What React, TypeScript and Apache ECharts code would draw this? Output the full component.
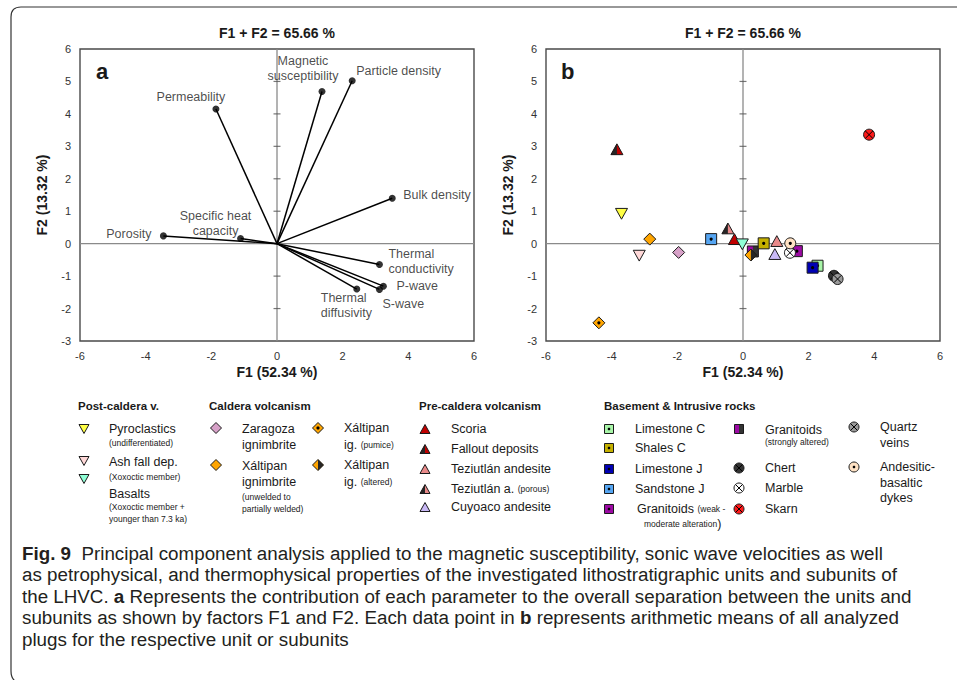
import React, { useEffect, useRef } from 'react';
import * as echarts from 'echarts';

// ---------------- DATA ----------------
const plotTitle = 'F1 + F2 = 65.66 %';
const xName = 'F1 (52.34 %)';
const yName = 'F2 (13.32 %)';
const zeroTicks = [-2, -1, 1, 2, 3, 4, 5];

// panel a : loadings
const loadingNames = [
  'Permeability',
  'Magnetic\nsusceptibility',
  'Particle density',
  'Bulk density',
  'Porosity',
  'Specific heat\ncapacity',
  'Thermal\nconductivity',
  'P-wave',
  'S-wave',
  'Thermal\ndiffusivity',
];
const loadingF1 = [-1.86, 1.37, 2.29, 3.51, -3.46, -1.11, 3.12, 3.24, 3.12, 2.43];
const loadingF2 = [4.15, 4.69, 5.02, 1.4, 0.24, 0.16, -0.64, -1.31, -1.41, -1.4];

// panel b : unit means (drawing order)
const unitNames = [
  'Fallout deposits', 'Skarn', 'Pyroclastics', 'Xáltipan ignimbrite', 'Ash fall dep.',
  'Zaragoza ignimbrite', 'Xáltipan ig. (pumice)', 'Sandstone J', 'Teziutlán a. (porous)', 'Scoria',
  'Basalts', 'Granitoids (strongly altered)', 'Xáltipan ig. (altered)', 'Shales C', 'Teziutlán andesite',
  'Cuyoaco andesite', 'Granitoids (weak - moderate alteration)', 'Marble', 'Andesitic-basaltic dykes',
  'Limestone C', 'Limestone J', 'Chert', 'Quartz veins',
];
const unitF1 = [-3.84, 3.84, -3.7, -2.84, -3.16, -1.96, -4.39, -0.97, -0.46, -0.26, -0.02, 0.3, 0.24, 0.63, 1.03, 0.97, 1.64, 1.43, 1.44, 2.27, 2.12, 2.77, 2.88];
const unitF2 = [2.91, 3.36, 0.92, 0.14, -0.37, -0.27, -2.44, 0.14, 0.47, 0.14, -0.02, -0.24, -0.35, 0.01, 0.08, -0.32, -0.23, -0.28, 0.01, -0.68, -0.74, -0.99, -1.09];
const unitMarker = [
  'fallout', 'skarn', 'pyro', 'xig', 'ash', 'zara', 'xpum', 'sandJ', 'tezip', 'scoria',
  'basalt', 'granS', 'xalt', 'shalesC', 'tezi', 'cuyo', 'granW', 'marble', 'dykes',
  'limeC', 'limeJ', 'chert', 'quartz',
];

// ---------------- STYLES / LAYOUT ----------------
const FONT = 'Arial, Liberation Sans, Helvetica, sans-serif';
const CAP_FONT = 'Arial, Liberation Sans, sans-serif';
const INK = '#1a1a1a';
const LBL = 12.5;

type Mk = { shape: string; fill: string; half?: [string, string]; dot?: boolean; cross?: boolean };
const MK: Record<string, Mk> = {
  pyro: { shape: 'itri', fill: '#ffff44' },
  ash: { shape: 'itri', fill: '#ffd8d8' },
  basalt: { shape: 'itri', fill: '#8fffd6' },
  zara: { shape: 'dia', fill: '#d7a1c8' },
  xig: { shape: 'dia', fill: '#ffa500' },
  xpum: { shape: 'dia', fill: '#ffa500', dot: true },
  xalt: { shape: 'dia', fill: '#ffa500', half: ['right', '#262626'] },
  scoria: { shape: 'tri', fill: '#c00000' },
  fallout: { shape: 'tri', fill: '#c00000', half: ['left', '#262626'] },
  tezi: { shape: 'tri', fill: '#e98a8a' },
  tezip: { shape: 'tri', fill: '#e98a8a', half: ['left', '#262626'] },
  cuyo: { shape: 'tri', fill: '#c9b9f6' },
  limeC: { shape: 'sq', fill: '#a8f5a8', dot: true },
  shalesC: { shape: 'sq', fill: '#c4b000', dot: true },
  limeJ: { shape: 'sq', fill: '#0000b4', dot: true },
  sandJ: { shape: 'sq', fill: '#55a5f2', dot: true },
  granW: { shape: 'sq', fill: '#9c0aa4', dot: true },
  granS: { shape: 'sq', fill: '#9c0aa4', half: ['right', '#333333'] },
  chert: { shape: 'circ', fill: '#333333', cross: true },
  marble: { shape: 'circ', fill: '#ffffff', cross: true },
  skarn: { shape: 'circ', fill: '#ff1a1a', cross: true },
  quartz: { shape: 'circ', fill: '#9a9a9a', cross: true },
  dykes: { shape: 'circ', fill: '#ffe2c4', dot: true },
};
const PLOT_SIZE: Record<string, number> = { sq: 11, dia: 12, tri: 12, itri: 12, circ: 11 };
const LEG_SIZE: Record<string, number> = { sq: 9, dia: 11, tri: 10, itri: 10, circ: 10 };

function polyPts(shape: string, cx: number, cy: number, s: number, part: string) {
  const h = s / 2;
  const t = s * 0.45;
  if (shape === 'tri') {
    const top = [cx, cy - t], bl = [cx - h, cy + t], br = [cx + h, cy + t], bm = [cx, cy + t];
    if (part === 'left') return [top, bm, bl];
    if (part === 'right') return [top, br, bm];
    return [top, br, bl];
  }
  if (shape === 'itri') {
    return [[cx - h, cy - t], [cx + h, cy - t], [cx, cy + t]];
  }
  // diamond
  const T = [cx, cy - h], R = [cx + h, cy], B = [cx, cy + h], L = [cx - h, cy];
  if (part === 'left') return [T, B, L];
  if (part === 'right') return [T, R, B];
  return [T, R, B, L];
}

function baseEl(m: Mk, cx: number, cy: number, s: number, part: string) {
  const h = s / 2;
  if (m.shape === 'sq') {
    if (part === 'left') return { type: 'rect', shape: { x: cx - h, y: cy - h, width: h, height: s } };
    if (part === 'right') return { type: 'rect', shape: { x: cx, y: cy - h, width: h, height: s } };
    return { type: 'rect', shape: { x: cx - h, y: cy - h, width: s, height: s } };
  }
  if (m.shape === 'circ') return { type: 'circle', shape: { cx, cy, r: h } };
  return { type: 'polygon', shape: { points: polyPts(m.shape, cx, cy, s, part) } };
}

function markerEls(key: string, cx: number, cy: number, sizes: Record<string, number>) {
  const m = MK[key];
  const s = sizes[m.shape];
  const els: any[] = [];
  els.push({ ...baseEl(m, cx, cy, s, 'all'), silent: true, style: { fill: m.fill } });
  if (m.half) {
    els.push({ ...baseEl(m, cx, cy, s, m.half[0]), silent: true, style: { fill: m.half[1] } });
  }
  els.push({ ...baseEl(m, cx, cy, s, 'all'), silent: true, style: { fill: 'none', stroke: '#1a1a1a', lineWidth: 1 } });
  if (m.dot) {
    els.push({ type: 'circle', silent: true, shape: { cx, cy, r: s > 10 ? 1.6 : 1.3 }, style: { fill: '#000' } });
  }
  if (m.cross) {
    const d = (s / 2) * 0.68;
    const st = { stroke: '#000', lineWidth: 1 };
    els.push({ type: 'line', silent: true, shape: { x1: cx - d, y1: cy - d, x2: cx + d, y2: cy + d }, style: st });
    els.push({ type: 'line', silent: true, shape: { x1: cx - d, y1: cy + d, x2: cx + d, y2: cy - d }, style: st });
  }
  return els;
}

// label placement for loadings: [align, dx, dy]
const loadingLabelPos: [string, number, number][] = [
  ['center', -25, -12],
  ['center', -19, -23],
  ['left', 4, -10],
  ['left', 11, -3],
  ['right', -12, -2],
  ['center', -25, -15],
  ['left', 9, -3],
  ['left', 13, 0],
  ['left', 3, 15],
  ['left', -36, 16],
];

// legend layout
const SMALL = { s: { fontSize: 8.5, fontFamily: FONT, fill: INK } };
type LegItem = { key: string; mx: number; my: number; tx: number; lines: [number, string][] };
const legendHeads: [number, string][] = [
  [78, 'Post-caldera v.'],
  [209, 'Caldera volcanism'],
  [419, 'Pre-caldera volcanism'],
  [604, 'Basement & Intrusive rocks'],
];
const legendItems: LegItem[] = [
  { key: 'pyro', mx: 84, my: 429, tx: 109, lines: [[429, 'Pyroclastics'], [443, '{s|(undifferentiated)}']] },
  { key: 'ash', mx: 84, my: 461, tx: 109, lines: [[462, 'Ash fall dep.'], [477, '{s|(Xoxoctic member)}']] },
  { key: 'basalt', mx: 84, my: 479, tx: 109, lines: [[494, 'Basalts'], [507, '{s|(Xoxoctic member +}'], [519, '{s|younger than 7.3 ka)}']] },
  { key: 'zara', mx: 216, my: 428, tx: 242, lines: [[429, 'Zaragoza'], [445, 'ignimbrite']] },
  { key: 'xig', mx: 216, my: 465, tx: 242, lines: [[466, 'Xáltipan'], [482, 'ignimbrite'], [497, '{s|(unwelded to}'], [509, '{s|partially welded)}']] },
  { key: 'xpum', mx: 318, my: 428, tx: 344, lines: [[428, 'Xáltipan'], [445, 'ig. {s|(pumice)}']] },
  { key: 'xalt', mx: 318, my: 465, tx: 344, lines: [[465, 'Xáltipan'], [482, 'ig. {s|(altered)}']] },
  { key: 'scoria', mx: 425, my: 429, tx: 451, lines: [[429, 'Scoria']] },
  { key: 'fallout', mx: 425, my: 449, tx: 451, lines: [[449, 'Fallout deposits']] },
  { key: 'tezi', mx: 425, my: 469, tx: 451, lines: [[469, 'Teziutlán andesite']] },
  { key: 'tezip', mx: 425, my: 489, tx: 451, lines: [[489, 'Teziutlán a. {s|(porous)}']] },
  { key: 'cuyo', mx: 425, my: 507, tx: 451, lines: [[507, 'Cuyoaco andesite']] },
  { key: 'limeC', mx: 609, my: 429, tx: 635, lines: [[429, 'Limestone C']] },
  { key: 'shalesC', mx: 609, my: 448, tx: 635, lines: [[448, 'Shales C']] },
  { key: 'limeJ', mx: 609, my: 469, tx: 635, lines: [[469, 'Limestone J']] },
  { key: 'sandJ', mx: 609, my: 489, tx: 635, lines: [[489, 'Sandstone J']] },
  { key: 'granW', mx: 609, my: 509, tx: 637, lines: [[509, 'Granitoids {s|(weak -}'], [524, '  {s|moderate alteration})']] },
  { key: 'granS', mx: 739, my: 429, tx: 765, lines: [[430, 'Granitoids'], [442, '{s|(strongly altered)}']] },
  { key: 'chert', mx: 739, my: 468, tx: 765, lines: [[468, 'Chert']] },
  { key: 'marble', mx: 739, my: 488, tx: 765, lines: [[488, 'Marble']] },
  { key: 'skarn', mx: 739, my: 509, tx: 765, lines: [[509, 'Skarn']] },
  { key: 'quartz', mx: 854, my: 427, tx: 880, lines: [[427, 'Quartz'], [443, 'veins']] },
  { key: 'dykes', mx: 854, my: 467, tx: 880, lines: [[467, 'Andesitic-'], [483, 'basaltic'], [498, 'dykes']] },
];

const captionLines = [
  '{b|Fig. 9}  Principal component analysis applied to the magnetic susceptibility, sonic wave velocities as well',
  'as petrophysical, and thermophysical properties of the investigated lithostratigraphic units and subunits of',
  'the LHVC. {b|a} Represents the contribution of each parameter to the overall separation between the units and',
  'subunits as shown by factors F1 and F2. Each data point in {b|b} represents arithmetic means of all analyzed',
  'plugs for the respective unit or subunits',
];
const captionY = [553, 574.5, 596, 617.5, 639];
const CAP_SIZE = 18.8;

function txt(x: number, y: number, text: string, extra: any = {}) {
  return {
    type: 'text',
    x,
    y,
    silent: true,
    style: { text, fontFamily: FONT, fontSize: LBL, fill: INK, align: 'left', verticalAlign: 'middle', rich: SMALL, ...extra },
  };
}

function buildOption() {
  const grids = [
    { left: 80, top: 49, width: 394, height: 292 },
    { left: 546, top: 49, width: 394, height: 292 },
  ].map((g) => ({ ...g, show: true, borderColor: '#4a4a4a', borderWidth: 1.4, backgroundColor: 'transparent' }));

  const xAxes = [0, 1].map((i) => ({
    type: 'value',
    gridIndex: i,
    min: -6,
    max: 6,
    interval: 2,
    axisLine: { show: false },
    axisTick: { show: false },
    splitLine: { show: false },
    axisLabel: { fontSize: 11, color: '#333', margin: 9, fontFamily: FONT },
    name: xName,
    nameLocation: 'middle',
    nameGap: 24,
    nameTextStyle: { fontSize: 14, fontWeight: 'bold', color: INK, fontFamily: FONT },
  }));
  const yAxes = [0, 1].map((i) => ({
    type: 'value',
    gridIndex: i,
    min: -3,
    max: 6,
    interval: 1,
    axisLine: { show: false },
    axisTick: { show: false },
    splitLine: { show: false },
    axisLabel: { fontSize: 11, color: '#333', margin: 9, fontFamily: FONT },
    name: yName,
    nameLocation: 'middle',
    nameRotate: 90,
    nameGap: 31,
    nameTextStyle: { fontSize: 14, fontWeight: 'bold', color: INK, fontFamily: FONT },
  }));

  const series: any[] = [];
  [0, 1].forEach((i) => {
    series.push({
      type: 'line', xAxisIndex: i, yAxisIndex: i, silent: true, symbol: 'none', z: 1,
      data: [[-6, 0], [6, 0]], lineStyle: { color: '#8a8a8a', width: 1.3 },
    });
    series.push({
      type: 'line', xAxisIndex: i, yAxisIndex: i, silent: true, symbol: 'none', z: 1,
      data: [[0, -3], [0, 6]], lineStyle: { color: '#8a8a8a', width: 1.3 },
    });
    series.push({
      type: 'scatter', xAxisIndex: i, yAxisIndex: i, silent: true, z: 1,
      symbol: 'rect', symbolSize: [7, 1.2], itemStyle: { color: '#555' },
      data: zeroTicks.map((v) => [0, v]),
    });
  });

  series.push({
    type: 'lines',
    coordinateSystem: 'cartesian2d',
    xAxisIndex: 0,
    yAxisIndex: 0,
    silent: true,
    z: 3,
    symbol: ['none', 'none'],
    lineStyle: { color: '#000', width: 1.5, opacity: 1, curveness: 0 },
    data: loadingNames.map((n, i) => ({ name: n, coords: [[0, 0], [loadingF1[i], loadingF2[i]]] })),
  });
  series.push({
    type: 'scatter',
    xAxisIndex: 0,
    yAxisIndex: 0,
    silent: true,
    z: 4,
    symbol: 'circle',
    symbolSize: 7,
    itemStyle: { color: '#000' },
    data: loadingNames.map((n, i) => {
      const [align, dx, dy] = loadingLabelPos[i];
      return {
        name: n,
        value: [loadingF1[i], loadingF2[i]],
        label: {
          show: true,
          position: 'inside',
          align,
          verticalAlign: 'middle',
          offset: [dx, dy],
          formatter: n,
          fontSize: LBL,
          lineHeight: 15,
          color: INK,
          fontFamily: FONT,
        },
      };
    }),
  });

  series.push({
    type: 'custom',
    xAxisIndex: 1,
    yAxisIndex: 1,
    silent: true,
    z: 5,
    data: unitNames.map((n, i) => ({ name: n, value: [unitF1[i], unitF2[i], i] })),
    renderItem: (params: any, api: any) => {
      const p = api.coord([api.value(0), api.value(1)]);
      const key = unitMarker[api.value(2)];
      return { type: 'group', children: markerEls(key, p[0], p[1], PLOT_SIZE) };
    },
  });

  const graphics: any[] = [];
  // frame
  const fr = { stroke: '#333', lineWidth: 1.2, fill: 'none' };
  graphics.push({ type: 'line', silent: true, shape: { x1: 21, y1: 7, x2: 957, y2: 7 }, style: fr });
  graphics.push({ type: 'bezierCurve', silent: true, shape: { x1: 21, y1: 7, cpx1: 11, cpy1: 7, x2: 11, y2: 17 }, style: fr });
  graphics.push({ type: 'line', silent: true, shape: { x1: 11, y1: 17, x2: 11, y2: 671 }, style: fr });
  graphics.push({ type: 'bezierCurve', silent: true, shape: { x1: 11, y1: 671, cpx1: 11, cpy1: 678, x2: 15, y2: 681 }, style: fr });

  // titles and panel letters
  graphics.push(txt(277, 33, plotTitle, { align: 'center', fontSize: 14, fontWeight: 'bold' }));
  graphics.push(txt(743, 33, plotTitle, { align: 'center', fontSize: 14, fontWeight: 'bold' }));
  graphics.push(txt(96, 71, 'a', { fontSize: 22, fontWeight: 'bold' }));
  graphics.push(txt(561, 71, 'b', { fontSize: 22, fontWeight: 'bold' }));

  // legend
  legendHeads.forEach(([x, t]) => graphics.push(txt(x, 406, t, { fontSize: 11.5, fontWeight: 'bold' })));
  legendItems.forEach((it) => {
    graphics.push({ type: 'group', silent: true, children: markerEls(it.key, it.mx, it.my, LEG_SIZE) });
    it.lines.forEach(([y, t]) => graphics.push(txt(it.tx, y, t)));
  });

  // caption
  captionLines.forEach((t, i) => {
    graphics.push({
      type: 'text',
      x: 22,
      y: captionY[i],
      silent: true,
      style: {
        text: t,
        fontFamily: CAP_FONT,
        fontSize: CAP_SIZE,
        fill: '#231f20',
        align: 'left',
        verticalAlign: 'middle',
        rich: { b: { fontFamily: CAP_FONT, fontSize: CAP_SIZE, fontWeight: 'bold', fill: '#231f20' } },
      },
    });
  });

  return {
    animation: false,
    backgroundColor: '#ffffff',
    textStyle: { fontFamily: FONT },
    grid: grids,
    xAxis: xAxes,
    yAxis: yAxes,
    series,
    graphic: graphics,
  };
}

export default function App() {
  const ref = useRef<HTMLDivElement>(null);
  useEffect(() => {
    if (!ref.current) return;
    const chart = echarts.init(ref.current, null, { renderer: 'svg' });
    chart.setOption(buildOption() as any);
    return () => chart.dispose();
  }, []);
  return (
    <div
      ref={ref}
      style={{ position: 'fixed', left: 0, top: 0, width: 957, height: 680, background: '#fff' }}
    />
  );
}
